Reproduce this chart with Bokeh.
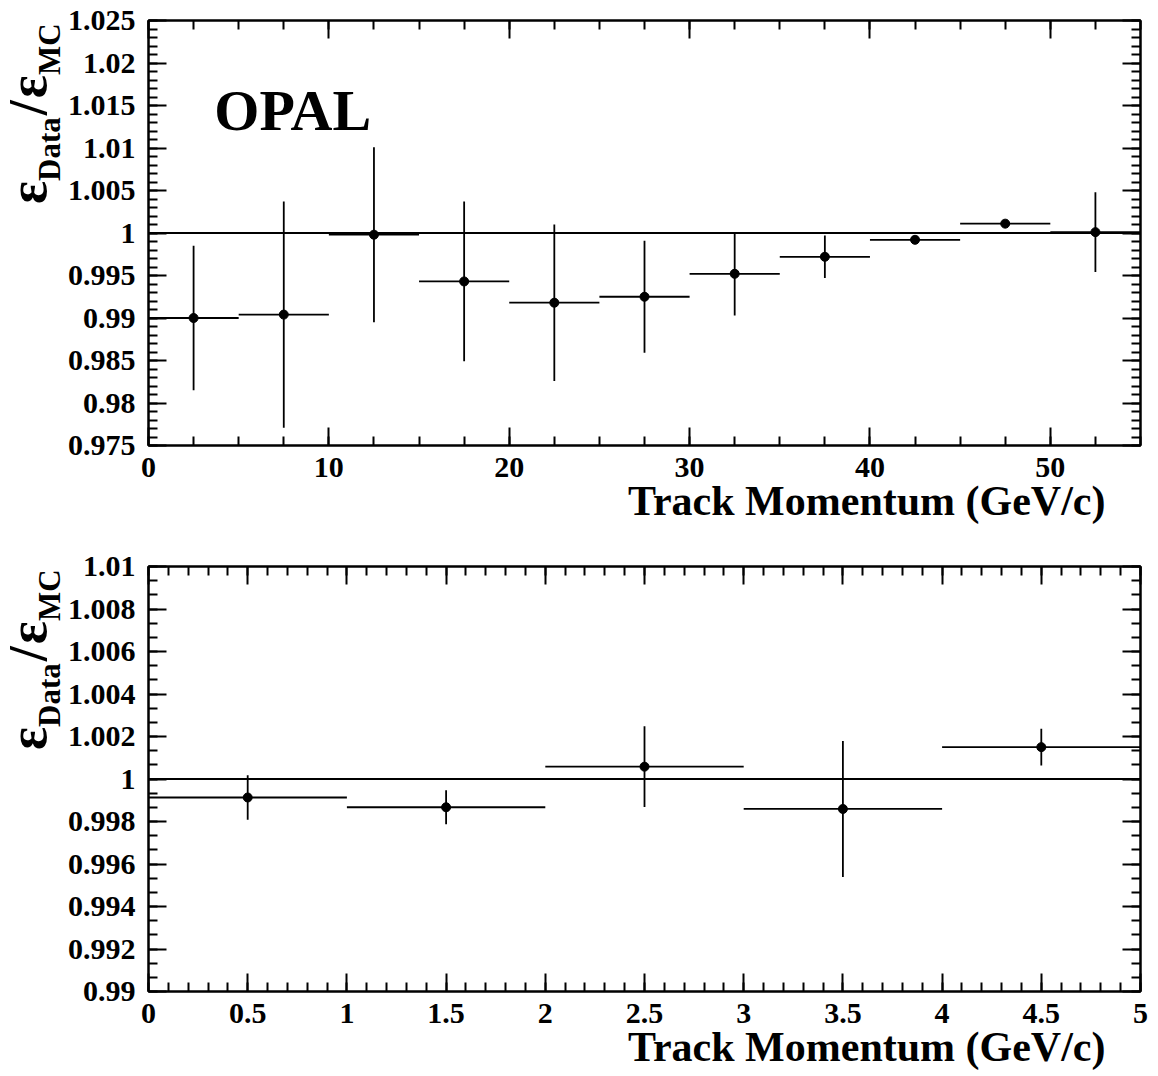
import numpy as np
from bokeh.plotting import figure
from bokeh.models import (Range1d, LinearAxis, FixedTicker, CustomJSTickFormatter,
                          Span, Label, ColumnDataSource, Div, Title)
from bokeh.layouts import column, row
from bokeh.embed import file_html
from bokeh.resources import INLINE

# ---------------- data ----------------
top_x = [2.5, 7.5, 12.5, 17.5, 22.5, 27.5, 32.5, 37.5, 42.5, 47.5, 52.5]
top_xerr = [2.5, 2.5, 2.5, 2.5, 2.5, 2.5, 2.5, 2.5, 2.5, 2.5, 2.5]
top_y = [0.9900, 0.9904, 0.9998, 0.9943, 0.9918, 0.9925, 0.9952, 0.9972, 0.9992, 1.0011, 1.0001]
top_yerr = [0.0085, 0.0133, 0.0103, 0.0094, 0.0092, 0.0066, 0.0049, 0.0025, 0.0003, 0.0003, 0.0047]

bot_x = [0.5, 1.5, 2.5, 3.5, 4.5]
bot_xerr = [0.5, 0.5, 0.5, 0.5, 0.5]
bot_y = [0.99913, 0.99867, 1.00058, 0.99859, 1.00150]
bot_yerr = [0.00105, 0.00080, 0.00190, 0.00320, 0.00086]

top_xticks = [0, 10, 20, 30, 40, 50]
top_xlabels = ["0", "10", "20", "30", "40", "50"]
top_yticks = [0.975, 0.98, 0.985, 0.99, 0.995, 1.0, 1.005, 1.01, 1.015, 1.02, 1.025]
top_ylabels = ["0.975", "0.98", "0.985", "0.99", "0.995", "1", "1.005", "1.01", "1.015", "1.02", "1.025"]

bot_xticks = [0, 0.5, 1, 1.5, 2, 2.5, 3, 3.5, 4, 4.5, 5]
bot_xlabels = ["0", "0.5", "1", "1.5", "2", "2.5", "3", "3.5", "4", "4.5", "5"]
bot_yticks = [0.99, 0.992, 0.994, 0.996, 0.998, 1.0, 1.002, 1.004, 1.006, 1.008, 1.01]
bot_ylabels = ["0.99", "0.992", "0.994", "0.996", "0.998", "1", "1.002", "1.004", "1.006", "1.008", "1.01"]

x_title = "Track Momentum (GeV/c)"
experiment = "OPAL"

FONT = "Liberation Serif"
DIV_W = 64
FIG_W = 1094
LEFT, RIGHT = 82, 18
FRAME_W, FRAME_H = FIG_W - LEFT - RIGHT, 425
FRAME_LEFT_PAGE = DIV_W + LEFT


def formatter(vals, labs):
    return CustomJSTickFormatter(args=dict(vals=vals, labs=labs), code="""
        for (let i = 0; i < vals.length; i++) {
            if (Math.abs(vals[i] - tick) < 1e-9) { return labs[i]; }
        }
        return "";
    """)


def style_axis(ax, ticker, fmt, show, standoff=12):
    ax.ticker = ticker
    ax.formatter = fmt
    ax.major_tick_in = 18
    ax.major_tick_out = 0
    ax.minor_tick_in = 9
    ax.minor_tick_out = 0
    ax.axis_line_width = 2
    ax.axis_line_color = "black"
    ax.major_tick_line_width = 2
    ax.minor_tick_line_width = 2
    ax.major_tick_line_color = "black"
    ax.minor_tick_line_color = "black"
    ax.major_label_text_font = FONT
    ax.major_label_text_font_style = "bold"
    if show:
        ax.major_label_text_color = "black"
        ax.major_label_text_font_size = "30px"
        ax.major_label_standoff = standoff
    else:
        ax.major_label_text_color = None
        ax.major_label_text_font_size = "0px"
        ax.major_label_standoff = 0


def ylabel_div(height, start_y):
    sub = "font-size:31px; position:relative; top:14px;"
    html = (
        f'<div style="position:relative; width:{DIV_W}px; height:{height}px; overflow:visible;">'
        f'<div style="position:absolute; left:1px; top:{start_y}px; transform:rotate(-90deg); '
        f'transform-origin:0 0; white-space:nowrap; font-family:\'{FONT}\'; font-weight:bold; '
        f'font-size:54px; line-height:54px; color:black;">'
        f'\u03b5<span style="{sub}">Data</span><span style="margin:0 2px;">/</span>'
        f'\u03b5<span style="{sub}">MC</span></div></div>'
    )
    return Div(text=html, width=DIV_W, height=height, margin=0)


def make_panel(height, top_border, xr, yr, xt, xl, xminor, yt, yl, yminor,
               xs, xe, ys, ye, opal):
    bottom_border = height - top_border - FRAME_H
    p = figure(width=FIG_W, height=height, x_range=Range1d(*xr), y_range=Range1d(*yr),
               output_backend="svg", toolbar_location=None,
               min_border_left=LEFT, min_border_right=RIGHT,
               min_border_top=top_border, min_border_bottom=bottom_border)
    p.xgrid.visible = False
    p.ygrid.visible = False
    p.outline_line_color = "black"
    p.outline_line_width = 2
    p.background_fill_color = "white"
    p.border_fill_color = None

    style_axis(p.xaxis[0], FixedTicker(ticks=xt, minor_ticks=xminor), formatter(xt, xl), True, 12)
    style_axis(p.yaxis[0], FixedTicker(ticks=yt, minor_ticks=yminor), formatter(yt, yl), True, 13)
    ax_top = LinearAxis()
    ax_right = LinearAxis()
    p.add_layout(ax_top, "above")
    p.add_layout(ax_right, "right")
    style_axis(ax_top, FixedTicker(ticks=xt, minor_ticks=xminor), formatter(xt, xl), False)
    style_axis(ax_right, FixedTicker(ticks=yt, minor_ticks=yminor), formatter(yt, yl), False)

    # x-axis title, right-aligned under the axis
    p.add_layout(Title(text=x_title, align="right", offset=35, standoff=-8,
                       text_font=FONT, text_font_style="bold", text_font_size="42px",
                       text_color="black"), "below")

    p.add_layout(Span(location=1.0, dimension="width", line_color="black", line_width=2))

    xs = np.array(xs); xe = np.array(xe); ys = np.array(ys); ye = np.array(ye)
    src = ColumnDataSource(dict(x=xs, y=ys, xl=xs - xe, xh=xs + xe, yl=ys - ye, yh=ys + ye))
    p.segment(x0="xl", x1="xh", y0="y", y1="y", source=src, line_color="black", line_width=1.8)
    p.segment(x0="x", x1="x", y0="yl", y1="yh", source=src, line_color="black", line_width=1.8)
    p.scatter(x="x", y="y", source=src, size=9, color="black")

    if opal:
        # page pixel -> data for the in-frame experiment label
        fx = 212 - FRAME_LEFT_PAGE
        fy = 110 - top_border
        lx = xr[0] + fx / FRAME_W * (xr[1] - xr[0])
        ly = yr[1] - fy / FRAME_H * (yr[1] - yr[0])
        p.add_layout(Label(x=lx, y=ly, text=experiment, text_font=FONT, text_font_style="bold",
                           text_font_size="58px", text_align="left", text_baseline="alphabetic",
                           text_color="black"))
    return p


top_xminor = [i * 2.5 for i in range(23)]
top_yminor = [0.975 + i * 0.001 for i in range(51)]
bot_xminor = [i * 0.1 for i in range(51)]
bot_yminor = [0.99 + i * 0.002 / 3 for i in range(31)]

H1, H2 = 540, 530
p1 = make_panel(H1, 20, (0, 55), (0.975, 1.025), top_xticks, top_xlabels, top_xminor,
                top_yticks, top_ylabels, top_yminor, top_x, top_xerr, top_y, top_yerr, True)
p2 = make_panel(H2, 26, (0, 5), (0.99, 1.01), bot_xticks, bot_xlabels, bot_xminor,
                bot_yticks, bot_ylabels, bot_yminor, bot_x, bot_xerr, bot_y, bot_yerr, False)

layout = column(row(ylabel_div(H1, 204), p1, spacing=0),
                row(ylabel_div(H2, 210), p2, spacing=0), spacing=0)
open("out.html", "w").write(file_html(layout, INLINE))
